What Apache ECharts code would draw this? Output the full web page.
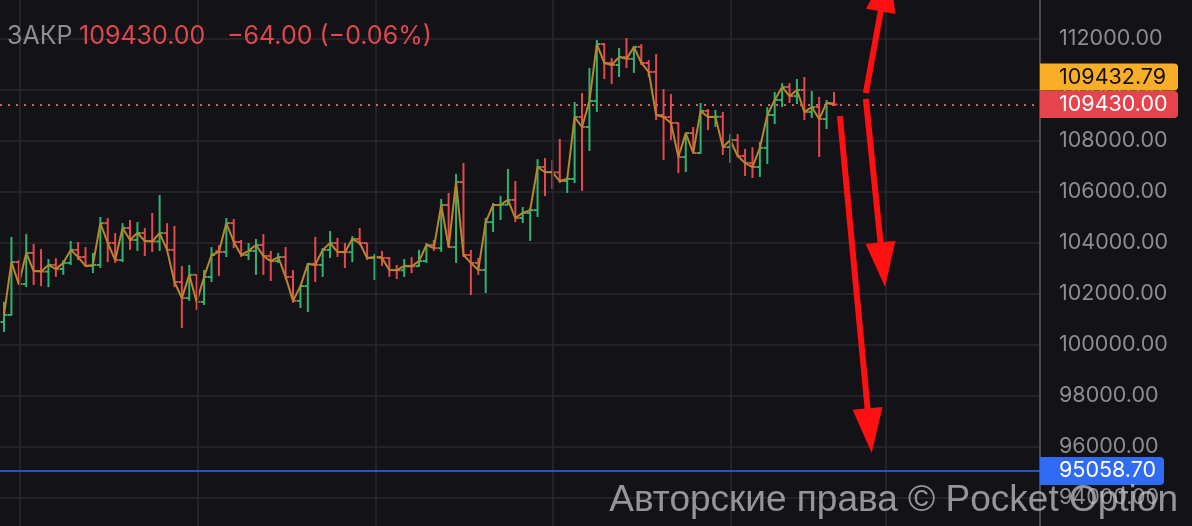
<!DOCTYPE html>
<html><head><meta charset="utf-8">
<script src="https://cdn.jsdelivr.net/npm/echarts@6/dist/echarts.min.js"></script>
<style>html,body{margin:0;padding:0;background:#131217;}#c{width:1192px;height:526px;}</style>
</head><body><div id="c"></div>
<script>
// ---- data ----
const opens  = [100900,101180,103250,102390,103610,102900,102880,103140,102980,103220,103730,103450,103100,103140,104780,104000,103330,104590,104120,104390,104080,104060,104390,103730,102470,101840,102750,101690,102670,103680,103650,104780,104040,103530,103690,103920,103490,103290,103450,102670,101730,102310,103180,103140,103730,104000,103650,103640,104160,104000,103410,103450,103410,102940,102930,103100,103090,103290,103920,103800,105490,103840,106390,103530,103220,102940,104820,105490,105500,105690,104980,105180,105290,106980,106780,106770,106430,106510,108940,108550,109570,111800,111060,110980,111290,111220,111690,111060,110710,109020,108940,108710,107370,108310,107530,109180,108940,108950,107760,108040,107410,107140,106980,107730,109020,109610,110120,109760,110000,109140,109330,108860,109490];
const closes = [101180,103250,102390,103610,102900,102880,103140,102980,103220,103730,103450,103100,103140,104780,104000,103330,104590,104120,104390,104080,104060,104390,103730,102470,101840,102750,101690,102670,103530,103650,104780,104040,103530,103690,103920,103490,103290,103450,102670,101730,102310,103180,103140,103730,104000,103650,103640,104160,104000,103410,103450,103410,102940,102930,103100,103090,103290,103920,103800,105490,103840,106390,103530,103220,102940,104820,105490,105500,105690,104980,105180,105290,106980,106780,106770,106430,106510,108940,108550,109570,111800,111060,110980,111290,111220,111690,111060,110710,109020,108940,108710,107370,108310,107530,109180,108940,108950,107760,108040,107410,107140,106980,107730,109020,109610,110120,109760,110000,109140,109330,108860,109494,109430];
const highs  = [101690,104240,103330,104350,103960,103760,103370,103410,103330,104080,104040,103840,103610,105020,104980,104390,104780,104900,104820,104590,105180,105880,104780,104670,103100,103140,102760,102940,103840,103920,104980,104940,104120,104000,104160,104350,103690,103610,103840,102940,102350,103220,104240,103800,104470,104200,104000,104270,104590,104010,103570,103690,103450,103140,103370,103450,103730,104000,104120,105730,105960,106710,107140,103730,103410,104980,105570,105840,106900,106430,105410,105370,107290,107330,107250,108080,106590,109530,109880,110860,111960,111840,111250,111650,112040,111730,111800,111180,111410,110040,109840,108720,108330,108550,109490,109250,109220,109140,108270,108270,107690,107760,107960,109330,109920,110270,110270,110430,110510,109960,109730,109610,109920];
const lows   = [100510,101150,102350,102270,102350,102310,102270,102670,102750,103140,103330,103060,102820,103020,103250,103220,103250,103730,103690,103490,103650,103690,103690,102270,100670,101730,101370,101570,102470,102710,103450,103800,103450,103330,102750,102750,102510,103220,102590,101650,101450,101290,102470,102670,103410,103450,103020,103250,103920,103330,102550,103100,102670,102590,102670,102820,103060,103220,103690,103650,103800,103220,103450,101960,102750,102040,104430,104900,105490,104820,104780,104080,105020,105840,106120,106350,105960,106350,106040,107610,109140,110430,110240,110510,110860,110670,110980,110510,108820,107250,108040,106740,106780,107500,107500,108430,108550,107450,107140,107370,106630,106550,106590,107100,108670,109330,109490,109450,108820,108900,107370,108470,109370];
const yTicks = {min: 92000, max: 114000, step: 2000};
const lastPrice = 109430.00;
const bidPrice = 109432.79;
const levelPrice = 95058.70;
const vGridAt = [2.16, 26.1, 50.1, 74.1, 98.1, 119.0];
// annotation arrows: [startIndex, startPrice, tipIndex, tipPrice]
const arrows = [[116.3,109880,119.4,114820],[116.3,109650,118.9,102270],[112.8,108980,117.1,95760]];
const headerLabel = 'ЗАКР';
const headerPrice = '109430.00';
const headerChange = '−64.00 (−0.06%)';
const watermark = 'Авторские права © Pocket Option';

const GREEN = '#2fb36f', RED = '#e5484d', LINE = '#b8862c';
const chart = echarts.init(document.getElementById('c'), null, {renderer:'canvas'});
const ohlc = closes.map((c,i)=>[i, opens[i], c, highs[i], lows[i]]);
const numFont = 'Inter, Roboto, sans-serif';

chart.setOption({
  backgroundColor:'#131217',
  animation:false,
  grid:{left:0, right:152, top:-12, bottom:-23, containLabel:false, outerBoundsMode:'none'},
  xAxis:{type:'value', min:-0.54, max:139.8, show:false},
  yAxis:{type:'value', position:'right', min:yTicks.min, max:yTicks.max, interval:yTicks.step,
    axisLine:{show:true, onZero:false, lineStyle:{color:'#4a4950', width:2}},
    axisTick:{show:false},
    axisLabel:{color:'#8d8c92', fontSize:21.5, margin:19, fontFamily:numFont, formatter:v=>v.toFixed(2)},
    splitLine:{lineStyle:{color:'#29282e', width:1.5}}
  },
  series:[
    {type:'line', data:[], silent:true,
      markLine:{silent:true, symbol:'none', label:{show:false}, animation:false,
        lineStyle:{color:'#29282e', width:1.5, type:'solid'},
        data: vGridAt.map(v=>({xAxis:v}))}},
    {type:'custom', data:ohlc, z:3, encode:{x:0,y:[1,2,3,4]},
      renderItem(params, api){
        const x = api.value(0);
        const o = api.coord([x, api.value(1)]);
        const c = api.coord([x, api.value(2)]);
        const h = api.coord([x, api.value(3)]);
        const l = api.coord([x, api.value(4)]);
        const col = api.value(2) >= api.value(1) ? GREEN : RED;
        const style = {stroke:col, lineWidth:2};
        return {type:'group', children:[
          {type:'line', shape:{x1:h[0],y1:h[1],x2:l[0],y2:l[1]}, style},
          {type:'line', shape:{x1:o[0]-3.5,y1:o[1],x2:o[0],y2:o[1]}, style},
          {type:'line', shape:{x1:c[0],y1:c[1],x2:c[0]+3.5,y2:c[1]}, style}
        ]};
      }},
    {type:'line', data:closes.map((c,i)=>[i,c]), z:4, symbol:'none', lineStyle:{color:LINE, width:2}, silent:true,
      markLine:{silent:true, symbol:'none', label:{show:false}, animation:false,
        data:[
          {yAxis:lastPrice, lineStyle:{color:'#d9615d', width:2, type:[2,6]}},
          {yAxis:levelPrice, lineStyle:{color:'#2f6bf0', width:1.5, type:'solid'}}
        ]}}
  ]
});

const yLast = chart.convertToPixel({yAxisIndex:0}, lastPrice);
const yLevel = chart.convertToPixel({yAxisIndex:0}, levelPrice);
const g = [];
arrows.forEach(a=>{
  const s = chart.convertToPixel({gridIndex:0},[a[0],a[1]]);
  const t = chart.convertToPixel({gridIndex:0},[a[2],a[3]]);
  const dx=t[0]-s[0], dy=t[1]-s[1], len=Math.hypot(dx,dy), ux=dx/len, uy=dy/len;
  const hl=45, hw=15;
  const bx=t[0]-ux*hl, by=t[1]-uy*hl;
  g.push({type:'line', z:50, shape:{x1:s[0],y1:s[1],x2:bx+ux*2,y2:by+uy*2}, style:{stroke:'#ff1010', lineWidth:6}});
  g.push({type:'polygon', z:50, shape:{points:[[t[0],t[1]],[bx-uy*hw,by+ux*hw],[bx+uy*hw,by-ux*hw]]}, style:{fill:'#ff1010'}});
});
g.push({type:'rect', z:60, shape:{x:1040,y:yLast-41,width:138,height:27,r:[0,4,4,0]}, style:{fill:'#f8ae26'}});
g.push({type:'text', z:61, x:1059, y:yLast-27.5, style:{text:bidPrice.toFixed(2), fill:'#111', font:'21.5px '+numFont, verticalAlign:'middle'}});
g.push({type:'rect', z:60, shape:{x:1040,y:yLast-13.5,width:138,height:27,r:[0,4,4,0]}, style:{fill:'#e5434e'}});
g.push({type:'text', z:61, x:1059, y:yLast, style:{text:lastPrice.toFixed(2), fill:'#fff', font:'21.5px '+numFont, verticalAlign:'middle'}});
g.push({type:'rect', z:60, shape:{x:1040,y:yLevel-14,width:124,height:28,r:[0,4,4,0]}, style:{fill:'#2f6bf5'}});
g.push({type:'text', z:61, x:1059, y:yLevel, style:{text:levelPrice.toFixed(2), fill:'#fff', font:'21.5px '+numFont, verticalAlign:'middle'}});
g.push({type:'text', z:70, x:7, y:36, style:{text:headerLabel, fill:'#8e8d93', font:'25px '+numFont, verticalAlign:'middle'}});
g.push({type:'text', z:70, x:79, y:36, style:{text:headerPrice, fill:'#e0474f', font:'25px '+numFont, verticalAlign:'middle'}});
g.push({type:'text', z:70, x:227, y:36, style:{text:headerChange, fill:'#e0474f', font:'25px '+numFont, verticalAlign:'middle'}});
g.push({type:'text', z:80, x:1178, y:501, style:{text:watermark, fill:'rgba(200,200,200,0.72)', font:'37px "Liberation Sans", Arial, sans-serif', align:'right', verticalAlign:'middle'}});
chart.setOption({graphic:g});
</script></body></html>
